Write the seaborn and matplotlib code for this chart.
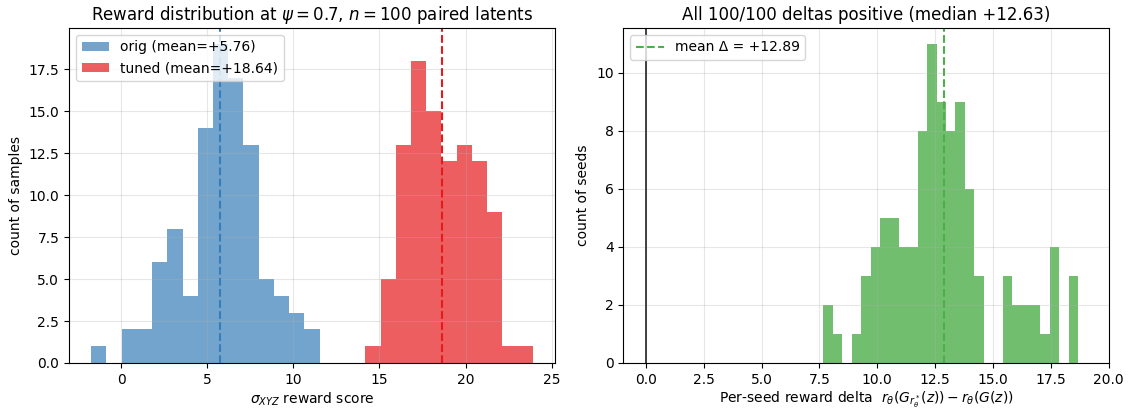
import numpy as np
import pandas as pd
import seaborn as sns
import matplotlib
matplotlib.use("Agg")
import matplotlib.pyplot as plt

# ---- left panel: reward scores, shared bins for orig and tuned ----
score_bin_lo, score_bin_hi = -1.74, 23.91
orig_counts = [1, 0, 2, 2, 6, 8, 4, 14, 19, 17, 13, 5, 4, 3, 2,
               0, 0, 0, 0, 0, 0, 0, 0, 0, 0, 0, 0, 0, 0]
tuned_counts = [0, 0, 0, 0, 0, 0, 0, 0, 0, 0, 0, 0, 0, 0, 0,
                0, 0, 0, 1, 5, 13, 18, 15, 12, 13, 12, 9, 1, 1]
orig_mean = 5.76
tuned_mean = 18.64

# ---- right panel: per-seed deltas ----
delta_bin_lo, delta_bin_hi = 7.67, 18.67
delta_counts = [2, 1, 0, 1, 3, 4, 5, 5, 4, 4, 8, 11, 9, 8, 9, 6, 3,
                0, 0, 3, 2, 2, 2, 1, 4, 0, 3]
delta_mean = 12.89
delta_median = 12.63

BLUE = "#377eb8"
RED = "#e41a1c"
GREEN = "#4daf4a"


def binned_frame(lo, hi, counts):
    edges = np.linspace(lo, hi, len(counts) + 1)
    df = pd.DataFrame({"x": (edges[:-1] + edges[1:]) / 2,
                       "n": np.asarray(counts, dtype=float)})
    return edges, df


fig = plt.figure(figsize=(11.28, 4.08), dpi=100)
ax1 = fig.add_axes([0.0612, 0.1103, 0.4308, 0.8211])
ax2 = fig.add_axes([0.5526, 0.1103, 0.4308, 0.8211])

# left
edges, df_orig = binned_frame(score_bin_lo, score_bin_hi, orig_counts)
_, df_tuned = binned_frame(score_bin_lo, score_bin_hi, tuned_counts)
sns.histplot(data=df_orig, x="x", weights="n", bins=list(edges), ax=ax1, color=BLUE,
             alpha=0.7, linewidth=0,
             label=f"orig (mean={orig_mean:+.2f})")
sns.histplot(data=df_tuned, x="x", weights="n", bins=list(edges), ax=ax1, color=RED,
             alpha=0.7, linewidth=0,
             label=f"tuned (mean={tuned_mean:+.2f})")
ax1.axvline(orig_mean, color=BLUE, ls="--", lw=1.5)
ax1.axvline(tuned_mean, color=RED, ls="--", lw=1.5)
ax1.set_title(r"Reward distribution at $\psi=0.7$, $n=100$ paired latents", fontsize=12)
ax1.set_xlabel(r"$\sigma_{XYZ}$ reward score", labelpad=3)
ax1.set_ylabel("count of samples")
ax1.grid(alpha=0.3)
ax1.legend(loc="upper left", fontsize=10)

# right
edges, df_delta = binned_frame(delta_bin_lo, delta_bin_hi, delta_counts)
sns.histplot(data=df_delta, x="x", weights="n", bins=list(edges), ax=ax2, color=GREEN,
             alpha=0.8, linewidth=0)
ax2.axvline(0, color="#222222", lw=1.2)
ax2.axvline(delta_mean, color=GREEN, ls="--", lw=1.5,
            label=f"mean \u0394 = {delta_mean:+.2f}")
ax2.set_xlim(-0.97, 20.02)
ax2.set_title(f"All 100/100 deltas positive (median {delta_median:+.2f})", fontsize=12)
ax2.set_xlabel(r"Per-seed reward delta  $r_\theta(G_{r_\theta^*}(z)) - r_\theta(G(z))$",
               labelpad=2)
ax2.set_ylabel("count of seeds")
ax2.grid(alpha=0.3)
ax2.legend(loc="upper left", fontsize=10)

fig.savefig("out.png", dpi=100)
